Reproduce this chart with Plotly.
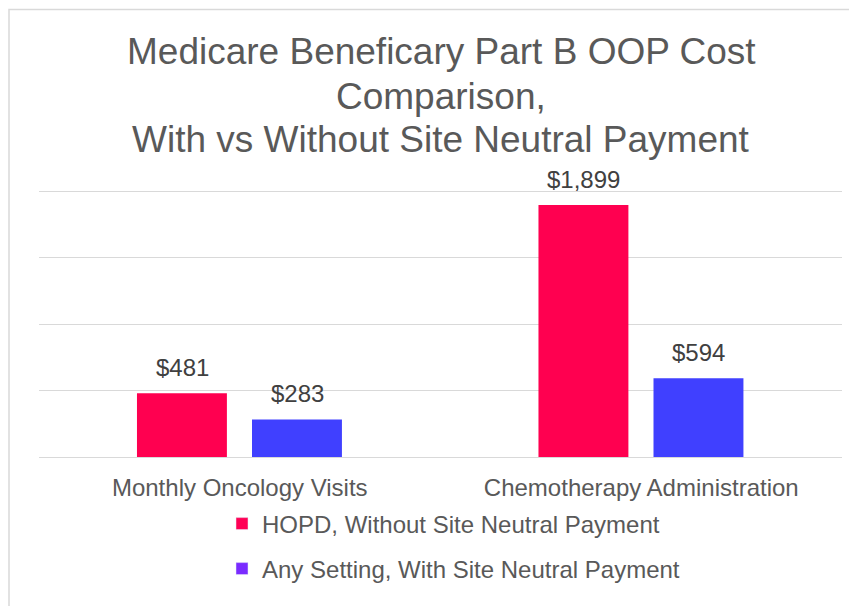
import plotly.graph_objects as go

categories = ["Monthly Oncology Visits", "Chemotherapy Administration"]
hopd_values = [481, 1899]
any_values = [283, 594]
series_names = ["HOPD, Without Site Neutral Payment", "Any Setting, With Site Neutral Payment"]
title_lines = ["Medicare Beneficary Part B OOP Cost", "Comparison,", "With vs Without Site Neutral Payment"]
grid_values = [0, 500, 1000, 1500, 2000]

W, H = 857, 606
OFF = 8  # page body margin
YMAX = 2020
# plot area in screen pixels (2000 gridline at y=192, baseline at y=457)
L, R, B = 39, 842, 457
T = B - YMAX * (457 - 192) / 2000
FONT = "Liberation Sans, Arial, sans-serif"
TXT = "#595959"
RED = "#FF0050"
BLUE = "#4040FF"
RED_LEG = "#FF0055"
PURPLE_LEG = "#7A2BFF"

fig = go.Figure()
fig.add_trace(go.Bar(x=categories, y=hopd_values, marker=dict(color=RED, line=dict(width=0)),
                     width=0.224, offset=-0.256, showlegend=False, hoverinfo="x+y"))
fig.add_trace(go.Bar(x=categories, y=any_values, marker=dict(color=BLUE, line=dict(width=0)),
                     width=0.224, offset=0.0305, showlegend=False, hoverinfo="x+y"))
# legend entries
fig.add_trace(go.Bar(x=[None], y=[None], name=series_names[0], marker_color=RED_LEG, legend="legend"))
fig.add_trace(go.Bar(x=[None], y=[None], name=series_names[1], marker_color=PURPLE_LEG, legend="legend2"))

annotations = []
for vals, shift in ((hopd_values, -57.5), (any_values, 57.5)):
    for c, v in zip(categories, vals):
        annotations.append(dict(x=c, y=v, xref="x", yref="y", text=f"${v:,}", showarrow=False,
                                xshift=shift, yshift=26, font=dict(family=FONT, size=24, color="#404040")))
title_y = [52, 97, 140]
for line, ypx in zip(title_lines, title_y):
    annotations.append(dict(x=(441 - L) / (R - L), y=(B - ypx) / (B - T), xref="paper", yref="paper",
                            text=line, showarrow=False, xanchor="center", yanchor="middle",
                            font=dict(family=FONT, size=37, color=TXT)))

fig.update_layout(
    width=W, height=H,
    margin=dict(l=L - OFF, r=W - (R - OFF), t=T - OFF, b=H - (B - OFF), pad=0, autoexpand=False),
    paper_bgcolor="white", plot_bgcolor="white",
    barmode="overlay",
    font=dict(family=FONT, color=TXT),
    annotations=annotations,
    legend=dict(x=(222 - OFF) / W, y=1 - (524 - OFF) / H, xref="container", yref="container",
                xanchor="left", yanchor="middle",
                font=dict(family=FONT, size=24, color=TXT), bgcolor="rgba(0,0,0,0)"),
    legend2=dict(x=(222 - OFF) / W, y=1 - (569 - OFF) / H, xref="container", yref="container",
                 xanchor="left", yanchor="middle",
                 font=dict(family=FONT, size=24, color=TXT), bgcolor="rgba(0,0,0,0)"),
    shapes=[dict(type="rect", xref="paper", yref="paper",
                 x0=(9 - L) / (R - L), x1=(900 - L) / (R - L),
                 y0=(B - 700) / (B - T), y1=(B - 10) / (B - T),
                 line=dict(color="#d9d9d9", width=1.5), fillcolor="rgba(0,0,0,0)", layer="below")],
)
fig.update_xaxes(type="category", showgrid=False, showline=False, ticks="", tickangle=0, automargin=False,
                 tickfont=dict(family=FONT, size=24, color=TXT), ticklabelstandoff=14, fixedrange=True)
fig.update_yaxes(range=[0, YMAX], tickvals=grid_values, showticklabels=False, automargin=False,
                 showgrid=True, gridcolor="#d9d9d9", gridwidth=1.3,
                 zeroline=True, zerolinecolor="#d9d9d9", zerolinewidth=1.3, showline=False, fixedrange=True)

fig.write_html("out.html")
